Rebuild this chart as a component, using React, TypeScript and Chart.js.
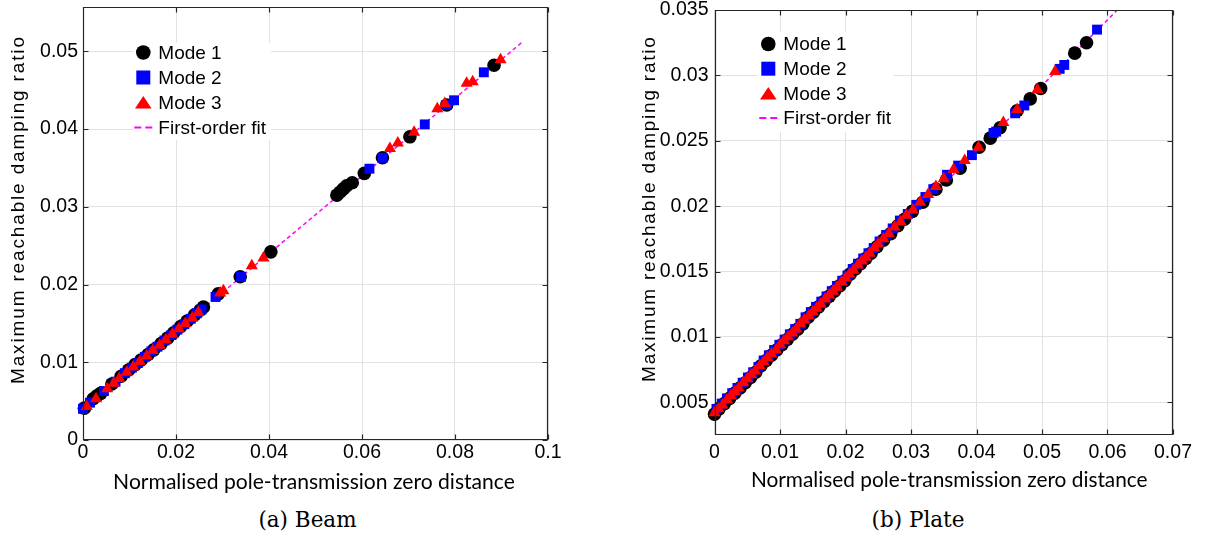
import React, { useEffect, useRef } from "react";
import { Chart, registerables } from "chart.js";

Chart.register(...registerables);

// ---------------- (a) Beam ----------------
const beamMode1X = [0.0003, 0.0022, 0.0030, 0.0038, 0.0062, 0.0082, 0.0098, 0.0112, 0.0125, 0.0140, 0.0152, 0.0168, 0.0182, 0.0195, 0.0210, 0.0224, 0.0240, 0.0252, 0.0259, 0.0291, 0.0338, 0.0404, 0.0546, 0.0553, 0.0560, 0.0567, 0.0579, 0.0605, 0.0644, 0.0703, 0.0782, 0.0884];
const beamMode1Y = [0.0041, 0.0053, 0.0057, 0.0060, 0.0072, 0.0082, 0.0090, 0.0097, 0.0103, 0.0110, 0.0116, 0.0124, 0.0131, 0.0138, 0.0146, 0.0153, 0.0161, 0.0167, 0.0171, 0.0188, 0.0210, 0.0242, 0.0315, 0.0319, 0.0323, 0.0327, 0.0331, 0.0343, 0.0363, 0.0390, 0.0431, 0.0482];
const beamMode2X = [0.0000, 0.0015, 0.0045, 0.0070, 0.0090, 0.0105, 0.0118, 0.0133, 0.0147, 0.0160, 0.0175, 0.0190, 0.0203, 0.0218, 0.0232, 0.0245, 0.0255, 0.0285, 0.0340, 0.0616, 0.0644, 0.0735, 0.0782, 0.0798, 0.0862];
const beamMode2Y = [0.0040, 0.0048, 0.0063, 0.0075, 0.0086, 0.0093, 0.0099, 0.0107, 0.0114, 0.0120, 0.0128, 0.0135, 0.0142, 0.0149, 0.0156, 0.0163, 0.0168, 0.0184, 0.0210, 0.0349, 0.0363, 0.0406, 0.0431, 0.0437, 0.0473];
const beamMode3X = [0.0008, 0.0028, 0.0052, 0.0066, 0.0078, 0.0094, 0.0108, 0.0122, 0.0137, 0.0150, 0.0165, 0.0178, 0.0192, 0.0206, 0.0220, 0.0235, 0.0248, 0.0295, 0.0302, 0.0363, 0.0388, 0.0660, 0.0677, 0.0712, 0.0762, 0.0778, 0.0825, 0.0838, 0.0898];
const beamMode3Y = [0.0043, 0.0053, 0.0066, 0.0073, 0.0079, 0.0087, 0.0094, 0.0101, 0.0108, 0.0115, 0.0122, 0.0129, 0.0136, 0.0143, 0.0150, 0.0157, 0.0164, 0.0189, 0.0192, 0.0224, 0.0234, 0.0375, 0.0382, 0.0396, 0.0426, 0.0433, 0.0459, 0.0461, 0.0489];
const beamFitX = [0, 0.0945];
const beamFitY = [0.0040, 0.0512];
const beamXRange = [0, 0.1];
const beamYRange = [0, 0.0557];
const beamXTicks = [0, 0.02, 0.04, 0.06, 0.08, 0.1];
const beamXTickLabels = ["0", "0.02", "0.04", "0.06", "0.08", "0.1"];
const beamYTicks = [0, 0.01, 0.02, 0.03, 0.04, 0.05];
const beamYTickLabels = ["0", "0.01", "0.02", "0.03", "0.04", "0.05"];

// ---------------- (b) Plate ----------------
const plateMode1X = [0.0000, 0.0007, 0.0015, 0.0023, 0.0031, 0.0039, 0.0047, 0.0055, 0.0063, 0.0071, 0.0079, 0.0087, 0.0095, 0.0103, 0.0111, 0.0119, 0.0127, 0.0135, 0.0143, 0.0151, 0.0159, 0.0167, 0.0175, 0.0183, 0.0191, 0.0199, 0.0207, 0.0215, 0.0223, 0.0231, 0.0239, 0.0248, 0.0258, 0.0269, 0.0280, 0.0290, 0.0302, 0.0318, 0.0338, 0.0354, 0.0375, 0.0404, 0.0421, 0.0436, 0.0462, 0.0482, 0.0498, 0.0550, 0.0568];
const plateMode1Y = [0.0041, 0.0045, 0.0049, 0.0053, 0.0057, 0.0061, 0.0065, 0.0069, 0.0073, 0.0078, 0.0082, 0.0086, 0.0090, 0.0094, 0.0098, 0.0102, 0.0106, 0.0110, 0.0115, 0.0119, 0.0123, 0.0127, 0.0131, 0.0135, 0.0139, 0.0143, 0.0148, 0.0152, 0.0156, 0.0160, 0.0164, 0.0169, 0.0174, 0.0179, 0.0185, 0.0190, 0.0196, 0.0203, 0.0213, 0.0220, 0.0229, 0.0245, 0.0252, 0.0260, 0.0273, 0.0282, 0.0290, 0.0317, 0.0325];
const plateMode2X = [0.0003, 0.0011, 0.0019, 0.0027, 0.0035, 0.0043, 0.0051, 0.0059, 0.0067, 0.0075, 0.0083, 0.0091, 0.0099, 0.0107, 0.0115, 0.0123, 0.0131, 0.0139, 0.0147, 0.0155, 0.0163, 0.0171, 0.0179, 0.0187, 0.0195, 0.0203, 0.0211, 0.0219, 0.0227, 0.0235, 0.0243, 0.0252, 0.0262, 0.0272, 0.0283, 0.0295, 0.0308, 0.0322, 0.0334, 0.0355, 0.0372, 0.0393, 0.0426, 0.0430, 0.0459, 0.0473, 0.0527, 0.0534, 0.0584];
const plateMode2Y = [0.0045, 0.0049, 0.0053, 0.0057, 0.0061, 0.0065, 0.0069, 0.0073, 0.0077, 0.0082, 0.0086, 0.0090, 0.0094, 0.0098, 0.0102, 0.0106, 0.0110, 0.0115, 0.0119, 0.0123, 0.0127, 0.0131, 0.0135, 0.0139, 0.0143, 0.0147, 0.0152, 0.0156, 0.0160, 0.0164, 0.0168, 0.0173, 0.0178, 0.0183, 0.0189, 0.0194, 0.0201, 0.0207, 0.0213, 0.0224, 0.0231, 0.0239, 0.0256, 0.0257, 0.0271, 0.0277, 0.0305, 0.0308, 0.0335];
const plateMode3X = [0.0000, 0.0006, 0.0012, 0.0019, 0.0025, 0.0031, 0.0037, 0.0044, 0.0050, 0.0056, 0.0062, 0.0069, 0.0075, 0.0081, 0.0087, 0.0094, 0.0100, 0.0106, 0.0112, 0.0119, 0.0125, 0.0131, 0.0137, 0.0144, 0.0150, 0.0156, 0.0162, 0.0169, 0.0175, 0.0181, 0.0187, 0.0194, 0.0200, 0.0206, 0.0212, 0.0219, 0.0225, 0.0231, 0.0237, 0.0244, 0.0250, 0.0258, 0.0266, 0.0275, 0.0284, 0.0293, 0.0303, 0.0314, 0.0326, 0.0338, 0.0350, 0.0365, 0.0382, 0.0403, 0.0441, 0.0462, 0.0493, 0.0520];
const plateMode3Y = [0.0042, 0.0045, 0.0048, 0.0052, 0.0055, 0.0058, 0.0061, 0.0065, 0.0068, 0.0071, 0.0074, 0.0078, 0.0081, 0.0084, 0.0087, 0.0090, 0.0094, 0.0097, 0.0100, 0.0103, 0.0106, 0.0110, 0.0113, 0.0116, 0.0119, 0.0122, 0.0125, 0.0129, 0.0132, 0.0135, 0.0138, 0.0142, 0.0145, 0.0148, 0.0151, 0.0155, 0.0158, 0.0161, 0.0164, 0.0168, 0.0171, 0.0175, 0.0179, 0.0184, 0.0188, 0.0193, 0.0197, 0.0203, 0.0209, 0.0215, 0.0221, 0.0228, 0.0235, 0.0245, 0.0264, 0.0274, 0.0289, 0.0303];
const plateFitX = [0, 0.0615];
const plateFitY = [0.0041, 0.0350];
const plateXRange = [0, 0.07];
const plateYRange = [0.0025, 0.035];
const plateXTicks = [0, 0.01, 0.02, 0.03, 0.04, 0.05, 0.06, 0.07];
const plateXTickLabels = ["0", "0.01", "0.02", "0.03", "0.04", "0.05", "0.06", "0.07"];
const plateYTicks = [0.005, 0.01, 0.015, 0.02, 0.025, 0.03, 0.035];
const plateYTickLabels = ["0.005", "0.01", "0.015", "0.02", "0.025", "0.03", "0.035"];

// ---------------- shared text ----------------
const legendLabels = ["Mode 1", "Mode 2", "Mode 3", "First-order fit"];
const xAxisTitle = "Normalised pole-transmission zero distance";
const yAxisTitle = "Maximum reachable damping ratio";
const captionBeam = "(a) Beam";
const captionPlate = "(b) Plate";

const zip = (xs: number[], ys: number[]) => xs.map((x, i) => ({ x, y: ys[i] }));

const TICK_FONT = '"Liberation Sans", Arial, sans-serif';
const AXIS_COLOR = "#262626";

type PanelSpec = {
  m1: { x: number; y: number }[];
  m2: { x: number; y: number }[];
  m3: { x: number; y: number }[];
  fit: { x: number; y: number }[];
  xRange: number[];
  yRange: number[];
  xTicks: number[];
  xTickLabels: string[];
  yTicks: number[];
  yTickLabels: string[];
  canvasLeft: number;
  canvasTop: number;
  canvasW: number;
  canvasH: number;
  padding: { left: number; right: number; top: number; bottom: number };
  yAxisWidth: number;
  xAxisHeight: number;
  xTickPad: number;
  yTickPad: number;
  legend: { dx: number; dy: number; gap: number; box: number[] };
  xTitleDx: number;
  xTitleDy: number;
  xTitleWidth: number;
  yTitleDx: number;
  yTitleDy: number;
  yTitleLen: number;
};

const beamSpec: PanelSpec = {
  m1: zip(beamMode1X, beamMode1Y),
  m2: zip(beamMode2X, beamMode2Y),
  m3: zip(beamMode3X, beamMode3Y),
  fit: zip(beamFitX, beamFitY),
  xRange: beamXRange,
  yRange: beamYRange,
  xTicks: beamXTicks,
  xTickLabels: beamXTickLabels,
  yTicks: beamYTicks,
  yTickLabels: beamYTickLabels,
  canvasLeft: 0,
  canvasTop: -20,
  canvasW: 600,
  canvasH: 520,
  padding: { left: 0, right: 52, top: 27, bottom: 0 },
  yAxisWidth: 83,
  xAxisHeight: 60,
  xTickPad: 1,
  yTickPad: 5,
  legend: { dx: 60.3, dy: 45.5, gap: 25, box: [50, 36, 188, 133] },
  xTitleDx: -1.5,
  xTitleDy: 42,
  xTitleWidth: 402,
  yTitleDx: -64,
  yTitleDy: -13,
  yTitleLen: 347,
};

const plateSpec: PanelSpec = {
  m1: zip(plateMode1X, plateMode1Y),
  m2: zip(plateMode2X, plateMode2Y),
  m3: zip(plateMode3X, plateMode3Y),
  fit: zip(plateFitX, plateFitY),
  xRange: plateXRange,
  yRange: plateYRange,
  xTicks: plateXTicks,
  xTickLabels: plateXTickLabels,
  yTicks: plateYTicks,
  yTickLabels: plateYTickLabels,
  canvasLeft: 600,
  canvasTop: -20,
  canvasW: 607,
  canvasH: 520,
  padding: { left: 0.5, right: 34, top: 30, bottom: 0 },
  yAxisWidth: 114,
  xAxisHeight: 65,
  xTickPad: 6,
  yTickPad: 6,
  legend: { dx: 53.8, dy: 34, gap: 24.7, box: [43.5, 22, 179, 122] },
  xTitleDx: 5.5,
  xTitleDy: 45,
  xTitleWidth: 397,
  yTitleDx: -64.5,
  yTitleDy: -13,
  yTitleLen: 345,
};

function makeDecor(spec: PanelSpec) {
  return {
    id: "panelDecor",
    afterDraw(chart: any) {
      const ctx: CanvasRenderingContext2D = chart.ctx;
      const a = chart.chartArea;
      const xs = chart.scales.x;
      const ys = chart.scales.y;
      ctx.save();

      // Box and inward ticks
      const L = Math.round(a.left) + 0.5;
      const R = Math.round(a.right) - 0.5;
      const T = Math.round(a.top) + 0.5;
      const B = Math.round(a.bottom) - 0.5;
      ctx.strokeStyle = AXIS_COLOR;
      ctx.lineWidth = 1.2;
      ctx.setLineDash([]);
      ctx.beginPath();
      ctx.rect(L, T, R - L, B - T);
      for (const v of spec.xTicks) {
        const px = Math.round(xs.getPixelForValue(v)) + 0.5;
        ctx.moveTo(px, B);
        ctx.lineTo(px, B - 5);
        ctx.moveTo(px, T);
        ctx.lineTo(px, T + 5);
      }
      for (const v of spec.yTicks) {
        const py = Math.round(ys.getPixelForValue(v)) + 0.5;
        ctx.moveTo(L, py);
        ctx.lineTo(L + 5, py);
        ctx.moveTo(R, py);
        ctx.lineTo(R - 5, py);
      }
      ctx.stroke();

      // Legend
      const lg = spec.legend;
      ctx.fillStyle = "#ffffff";
      ctx.fillRect(a.left + lg.box[0], a.top + lg.box[1], lg.box[2] - lg.box[0], lg.box[3] - lg.box[1]);
      const mx = a.left + lg.dx;
      const rowY = (i: number) => a.top + lg.dy + i * lg.gap;
      ctx.fillStyle = "#000000";
      ctx.beginPath();
      ctx.arc(mx, rowY(0), 7.3, 0, Math.PI * 2);
      ctx.fill();
      ctx.fillStyle = "#0000ff";
      ctx.fillRect(mx - 7, rowY(1) - 7, 14, 14);
      ctx.fillStyle = "#ff0000";
      ctx.beginPath();
      ctx.moveTo(mx, rowY(2) - 6.5);
      ctx.lineTo(mx + 8.3, rowY(2) + 6);
      ctx.lineTo(mx - 8.3, rowY(2) + 6);
      ctx.closePath();
      ctx.fill();
      ctx.strokeStyle = "#ff00ff";
      ctx.lineWidth = 2;
      ctx.setLineDash([7, 4]);
      ctx.beginPath();
      ctx.moveTo(mx - 9, rowY(3));
      ctx.lineTo(mx + 11, rowY(3));
      ctx.stroke();
      ctx.setLineDash([]);
      ctx.fillStyle = "#000000";
      ctx.font = `19px ${TICK_FONT}`;
      ctx.textAlign = "left";
      ctx.textBaseline = "middle";
      legendLabels.forEach((t, i) => ctx.fillText(t, mx + 15, rowY(i) + 1));

      // X title
      let size = 20;
      ctx.font = `${size}px Lato, "Open Sans", sans-serif`;
      const w0 = ctx.measureText(xAxisTitle).width;
      size = (size * spec.xTitleWidth) / w0;
      ctx.font = `${size}px Lato, "Open Sans", sans-serif`;
      ctx.textAlign = "center";
      ctx.fillStyle = "#000000";
      ctx.fillText(xAxisTitle, (a.left + a.right) / 2 + spec.xTitleDx, a.bottom + spec.xTitleDy);

      // Y title (rotated, letter-spaced)
      ctx.font = `19px ${TICK_FONT}`;
      const wy = ctx.measureText(yAxisTitle).width;
      const spacing = (spec.yTitleLen - wy) / (yAxisTitle.length - 1);
      ctx.translate(a.left + spec.yTitleDx, (a.top + a.bottom) / 2 + spec.yTitleDy);
      ctx.rotate(-Math.PI / 2);
      (ctx as any).letterSpacing = `${spacing.toFixed(2)}px`;
      ctx.textAlign = "center";
      ctx.fillText(yAxisTitle, spacing / 2, 0);
      (ctx as any).letterSpacing = "0px";
      ctx.restore();
    },
  };
}

function Panel({ spec }: { spec: PanelSpec }) {
  const ref = useRef<HTMLCanvasElement>(null);
  useEffect(() => {
    const canvas = ref.current!;
    const pointBase = { showLine: false, borderWidth: 0, clip: false as any };
    const chart = new Chart(canvas, {
      type: "scatter",
      data: {
        datasets: [
          { ...pointBase, label: legendLabels[2], data: spec.m3, pointStyle: "triangle", pointRadius: 7, backgroundColor: "#ff0000", borderColor: "#ff0000", order: 0 },
          { ...pointBase, label: legendLabels[1], data: spec.m2, pointStyle: "rect", pointRadius: 7, backgroundColor: "#0000ff", borderColor: "#0000ff", order: 1 },
          { ...pointBase, label: legendLabels[0], data: spec.m1, pointStyle: "circle", pointRadius: 6.8, backgroundColor: "#000000", borderColor: "#000000", order: 2 },
          { label: legendLabels[3], data: spec.fit, showLine: true, pointRadius: 0, borderColor: "#ff00ff", backgroundColor: "#ff00ff", borderWidth: 1.5, borderDash: [4, 3], order: 3 },
        ] as any,
      },
      options: {
        animation: false,
        responsive: false,
        events: [],
        layout: { padding: spec.padding },
        plugins: { legend: { display: false }, tooltip: { enabled: false } },
        scales: {
          x: {
            type: "linear",
            min: spec.xRange[0],
            max: spec.xRange[1],
            afterBuildTicks: (s: any) => {
              s.ticks = spec.xTicks.map((v) => ({ value: v }));
            },
            afterFit: (s: any) => {
              s.height = spec.xAxisHeight;
            },
            ticks: {
              autoSkip: false,
              maxRotation: 0,
              padding: spec.xTickPad,
              color: "#000000",
              font: { family: TICK_FONT, size: 19.5 },
              callback: (_v: any, i: number) => spec.xTickLabels[i],
            },
            grid: { color: "#e2e2e2", lineWidth: 1, drawTicks: false },
            border: { display: false },
          },
          y: {
            type: "linear",
            min: spec.yRange[0],
            max: spec.yRange[1],
            afterBuildTicks: (s: any) => {
              s.ticks = spec.yTicks.map((v) => ({ value: v }));
            },
            afterFit: (s: any) => {
              s.width = spec.yAxisWidth;
            },
            ticks: {
              autoSkip: false,
              padding: spec.yTickPad,
              color: "#000000",
              font: { family: TICK_FONT, size: 19.5 },
              callback: (_v: any, i: number) => spec.yTickLabels[i],
            },
            grid: { color: "#e2e2e2", lineWidth: 1, drawTicks: false },
            border: { display: false },
          },
        },
      } as any,
      plugins: [makeDecor(spec)],
    });
    return () => chart.destroy();
  }, [spec]);
  return (
    <canvas
      ref={ref}
      width={spec.canvasW}
      height={spec.canvasH}
      style={{ position: "absolute", left: spec.canvasLeft, top: spec.canvasTop, width: spec.canvasW, height: spec.canvasH }}
    />
  );
}

const captionStyle: React.CSSProperties = {
  position: "absolute",
  top: 507,
  width: 240,
  textAlign: "center",
  font: '21.5px "DejaVu Serif", serif',
  lineHeight: "26px",
  color: "#000",
  whiteSpace: "nowrap",
};

export default function App() {
  return (
    <div style={{ position: "absolute", left: 0, top: 0, width: 1207, height: 540, background: "#ffffff", overflow: "hidden" }}>
      <Panel spec={beamSpec} />
      <Panel spec={plateSpec} />
      <div style={{ ...captionStyle, left: 307.5 - 120 }}>{captionBeam}</div>
      <div style={{ ...captionStyle, left: 918 - 120 }}>{captionPlate}</div>
    </div>
  );
}
